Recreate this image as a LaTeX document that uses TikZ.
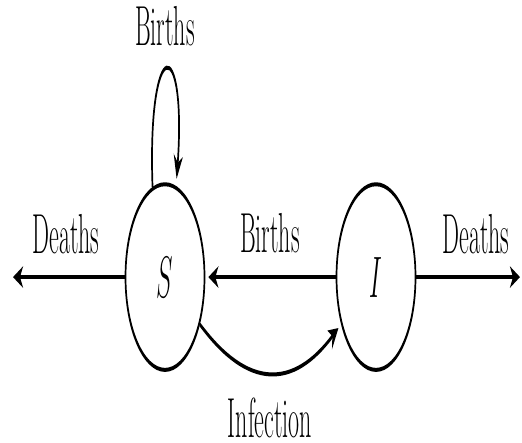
\documentclass[tikz,border=0pt]{standalone}
\usepackage{tikz}
\usetikzlibrary{arrows.meta}

\begin{document}
\begin{tikzpicture}[x=1pt,y=1pt,>={Stealth[length=10pt,width=9pt,inset=3pt]}]
  \useasboundingbox (0,0) rectangle (522,443);
  \begin{scope}[transform canvas={yscale=2.35},
      font=\fontsize{24}{28}\selectfont,
      compartment/.style={circle,draw,line width=1.7pt,minimum size=79pt,inner sep=0pt},
      flowlabel/.style={inner sep=0pt},
      flow/.style={->,line width=1.7pt,shorten >=3pt}]
    \node[compartment] (S) at (165,70.6) {$S$};
    \node[compartment] (I) at (376,70.6) {$I$};
    \coordinate (deadS) at (13,70.6);
    \coordinate (deadI) at (520,70.6);
    % flows
    \draw[flow,shorten >=0pt] (S.west) -- (deadS);
    \draw[flow,shorten >=0pt] (I.east) -- (deadI);
    \draw[flow] (I.west) -- (S.east);
    \draw[flow] (S.108) .. controls (147,175) and (187,175) .. (S.74);
    \draw[flow] (S.-30) to[out=-30,in=210] (I.210);
    % labels
    \node[flowlabel] (birthsS) at (165,177.2) {Births};
    \node[flowlabel] (deathsS) at (66,88.9) {Deaths};
    \node[flowlabel] (birthsI) at (270,89.4) {Births};
    \node[flowlabel] (deathsI) at (476,88.9) {Deaths};
    \node[flowlabel] (infect) at (270,10.8) {Infection};
  \end{scope}
\end{tikzpicture}
\end{document}
